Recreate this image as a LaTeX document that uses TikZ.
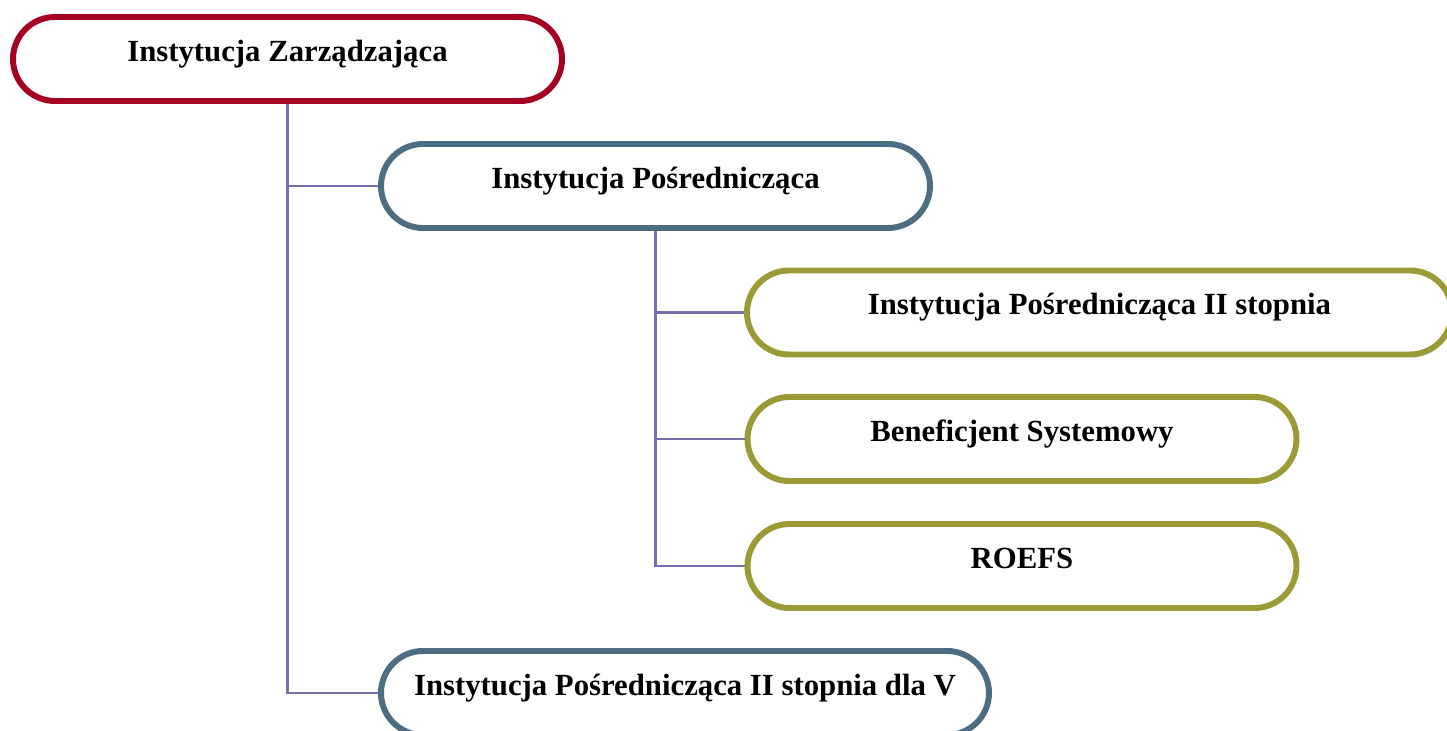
\documentclass[tikz,border=0pt]{standalone}
\usepackage{fontspec}
\setmainfont{Liberation Serif}
\usepackage{xcolor}
\usepackage{tikz}
\usetikzlibrary{positioning,calc}
\definecolor{izred}{HTML}{A50021}
\definecolor{ipblue}{HTML}{4D6E82}
\definecolor{ipolive}{HTML}{9C9A36}
\definecolor{linkviolet}{HTML}{7570AE}
\begin{document}
\begin{tikzpicture}[scale = 1,
  inst/.style={draw, line width=3.4pt, fill=white, rounded corners=0.84cm,
    inner xsep=0pt, inner ysep=0pt, text height=0.89cm, text depth=0.79cm,
    font=\fontsize{17.5}{21}\selectfont\bfseries},
  link/.style={draw=linkviolet, line width=1.3pt}]
\useasboundingbox (0,0) rectangle (28.94,-14.62);
% boxes
\node[inst, draw=izred, minimum width=10.98cm] (iz) at (5.75,-1.18) {Instytucja Zarządzająca};
\node[inst, draw=ipblue, minimum width=10.98cm] (ip) at (13.11,-3.72) {Instytucja Pośrednicząca};
\node[inst, draw=ipolive, minimum width=14.1cm] (ip2) at (21.99,-6.25) {Instytucja Pośrednicząca II stopnia};
\node[inst, draw=ipolive, minimum width=10.98cm] (bs) at (20.44,-8.78) {Beneficjent Systemowy};
\node[inst, draw=ipolive, minimum width=10.98cm] (roefs) at (20.44,-11.32) {ROEFS};
\node[inst, draw=ipblue, minimum width=12.16cm] (ipv) at (13.70,-13.86) {Instytucja Pośrednicząca II stopnia dla V};
% links
\draw[link] (iz.south) |- (ip.west);
\draw[link] (iz.south) |- (ipv.west);
\draw[link] (ip.south) |- (ip2.west);
\draw[link] (ip.south) |- (bs.west);
\draw[link] (ip.south) |- (roefs.west);
\end{tikzpicture}
\end{document}
